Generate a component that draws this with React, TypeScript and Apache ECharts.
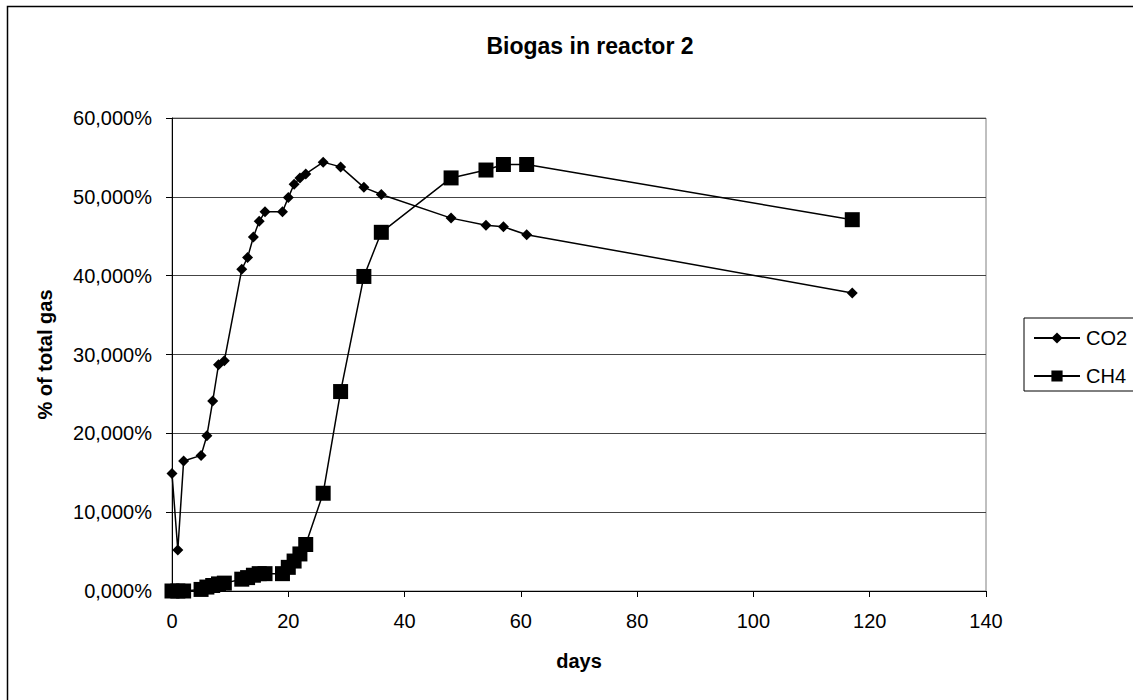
import React, { useEffect, useRef } from "react";
import * as echarts from "echarts";

const days = [0, 1, 2, 5, 6, 7, 8, 9, 12, 13, 14, 15, 16, 19, 20, 21, 22, 23, 26, 29, 33, 36, 48, 54, 57, 61, 117];
const co2 = [14.9, 5.2, 16.5, 17.2, 19.7, 24.1, 28.7, 29.2, 40.8, 42.3, 44.9, 46.9, 48.1, 48.1, 49.9, 51.6, 52.4, 52.9, 54.4, 53.8, 51.2, 50.3, 47.3, 46.4, 46.2, 45.2, 37.8];
const ch4 = [0, 0, 0, 0.2, 0.5, 0.7, 0.9, 1.0, 1.5, 1.7, 2.0, 2.2, 2.2, 2.2, 3.0, 3.8, 4.7, 5.9, 12.4, 25.3, 39.9, 45.5, 52.4, 53.4, 54.1, 54.1, 47.1];
const seriesNames = ["CO2", "CH4"];
const titleText = "Biogas in reactor 2";
const xName = "days";
const yName = "% of total gas";

const FONT = "'Liberation Sans', Arial, sans-serif";

export default function App() {
  const ref = useRef<HTMLDivElement>(null);
  useEffect(() => {
    document.body.style.margin = "0";
    const chart = echarts.init(ref.current!, null, { renderer: "svg" });
    const pairs = (ys: number[]) => days.map((d, i) => [d, ys[i]]);
    chart.setOption({
      animation: false,
      backgroundColor: "#ffffff",
      textStyle: { fontFamily: FONT, color: "#000" },
      graphic: [
        {
          type: "rect",
          shape: { x: 7.5, y: 6.5, width: 1300, height: 900 },
          style: { fill: "none", stroke: "#000", lineWidth: 1.5 },
          silent: true,
          z: -10,
        },
        {
          type: "text",
          x: 590,
          y: 46,
          style: {
            text: titleText,
            font: `bold 23px ${FONT}`,
            fill: "#000",
            textAlign: "center",
            textVerticalAlign: "middle",
          },
        },
      ],
      grid: {
        left: 172,
        right: 147,
        top: 118,
        bottom: 109,
        show: true,
        borderColor: "#808080",
        borderWidth: 1,
        backgroundColor: "transparent",
      },
      legend: {
        orient: "vertical",
        left: 1024,
        top: 318,
        padding: [10, 7, 5, 9],
        itemGap: 18,
        itemWidth: 46,
        itemHeight: 14,
        borderColor: "#000",
        borderWidth: 1,
        borderRadius: 0,
        backgroundColor: "#fff",
        data: seriesNames,
        textStyle: { fontFamily: FONT, fontSize: 20, color: "#000", padding: [0, 0, 0, 1] },
      },
      xAxis: {
        type: "value",
        min: 0,
        max: 140,
        interval: 20,
        name: xName,
        nameLocation: "middle",
        nameGap: 60,
        nameTextStyle: { fontFamily: FONT, fontSize: 20, fontWeight: "bold", color: "#000" },
        axisLine: { show: true, lineStyle: { color: "#000", width: 1 } },
        axisTick: { show: true, inside: false, length: 6, lineStyle: { color: "#000" } },
        axisLabel: { fontFamily: FONT, fontSize: 20, color: "#000", margin: 20 },
        splitLine: { show: false },
      },
      yAxis: {
        type: "value",
        min: 0,
        max: 60,
        interval: 10,
        name: yName,
        nameLocation: "middle",
        nameGap: 117,
        nameRotate: 90,
        nameTextStyle: { fontFamily: FONT, fontSize: 20, fontWeight: "bold", color: "#000" },
        axisLine: { show: true, lineStyle: { color: "#000", width: 1 } },
        axisTick: { show: true, inside: false, length: 6, lineStyle: { color: "#000" } },
        axisLabel: {
          fontFamily: FONT,
          fontSize: 20,
          color: "#000",
          margin: 20,
          formatter: (v: number) => v.toFixed(3).replace(".", ",") + "%",
        },
        splitLine: { show: true, lineStyle: { color: "#444", width: 1 } },
      },
      series: [
        {
          name: seriesNames[0],
          type: "line",
          data: pairs(co2),
          symbol: "diamond",
          symbolSize: 11,
          showAllSymbol: true,
          itemStyle: { color: "#000" },
          lineStyle: { color: "#000", width: 1.5 },
          z: 3,
        },
        {
          name: seriesNames[1],
          type: "line",
          data: pairs(ch4),
          symbol: "rect",
          symbolSize: 15,
          showAllSymbol: true,
          itemStyle: { color: "#000" },
          lineStyle: { color: "#000", width: 1.5 },
          z: 2,
        },
      ],
    });
    return () => chart.dispose();
  }, []);
  return <div ref={ref} style={{ position: "absolute", left: 0, top: 0, width: 1133, height: 700 }} />;
}
